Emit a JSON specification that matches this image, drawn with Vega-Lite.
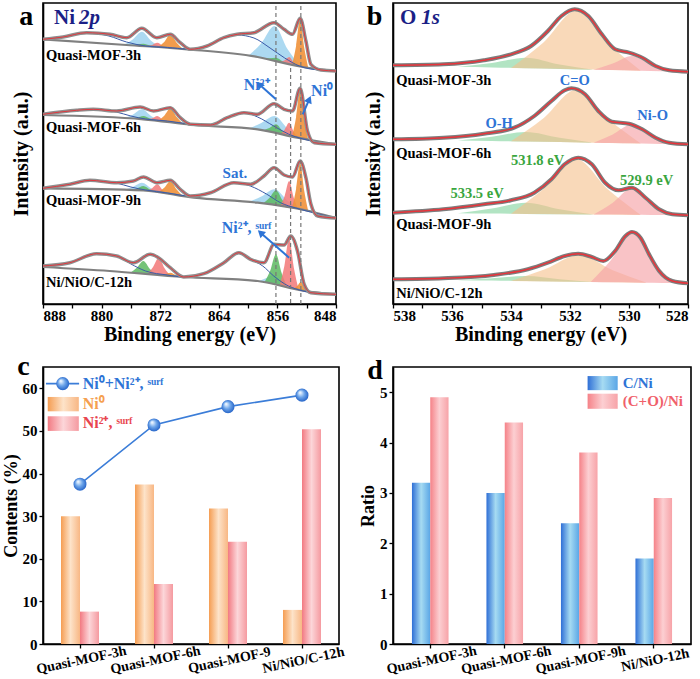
{
"$schema": "https://vega.github.io/schema/vega-lite/v6.json",
"padding": {"left": 1, "top": 0, "right": 2, "bottom": 0},
"autosize": {"type": "pad"},
"config": {
 "view": {"stroke": "#000", "strokeWidth": 1.6},
 "axis": {"labelFont": "Liberation Serif", "labelFontWeight": "bold", "labelFontSize": 15, "labelColor": "#000", "titleFont": "Liberation Serif", "titleFontWeight": "bold", "titleFontSize": 20, "titleColor": "#000", "domainColor": "#000", "domainWidth": 1.6, "tickColor": "#000", "tickWidth": 1.3, "tickSize": 4, "labelPadding": 2, "titlePadding": 4, "grid": false},
 "text": {"font": "Liberation Serif"}
},
"resolve": {"scale": {"color": "independent"}},
"datasets": {
 "aEnv": [
  {"s":"3h","x":888,"y":264.7},{"s":"3h","x":885.26,"y":267},{"s":"3h","x":882.06,"y":271.3},{"s":"3h","x":878.86,"y":269.7},{"s":"3h","x":876.57,"y":266.3},{"s":"3h","x":874.51,"y":275.7},{"s":"3h","x":872.46,"y":266.3},{"s":"3h","x":870.63,"y":269.7},{"s":"3h","x":869.26,"y":261.3},{"s":"3h","x":867.89,"y":254.7},{"s":"3h","x":865.6,"y":258},{"s":"3h","x":863.31,"y":266.3},{"s":"3h","x":861.49,"y":269.7},{"s":"3h","x":859.2,"y":271.3},{"s":"3h","x":856.46,"y":281.3},{"s":"3h","x":855.09,"y":274.7},{"s":"3h","x":853.94,"y":269.7},{"s":"3h","x":852.89,"y":285.7},{"s":"3h","x":852.11,"y":263},{"s":"3h","x":851.43,"y":239.7},{"s":"3h","x":850.06,"y":234},{"s":"3h","x":848,"y":233},
  {"s":"6h","x":888,"y":189.7},{"s":"6h","x":883.43,"y":193.7},{"s":"6h","x":881.14,"y":194.7},{"s":"6h","x":877.94,"y":193},{"s":"6h","x":874.74,"y":197},{"s":"6h","x":872.91,"y":193},{"s":"6h","x":870.63,"y":196.3},{"s":"6h","x":869.26,"y":186.3},{"s":"6h","x":867.89,"y":179.7},{"s":"6h","x":865.14,"y":179},{"s":"6h","x":862.86,"y":186.3},{"s":"6h","x":860.57,"y":191.3},{"s":"6h","x":858.74,"y":189.7},{"s":"6h","x":856.46,"y":200.3},{"s":"6h","x":855.09,"y":194.7},{"s":"6h","x":853.94,"y":193},{"s":"6h","x":852.9,"y":215.7},{"s":"6h","x":851.89,"y":173},{"s":"6h","x":850.97,"y":161.3},{"s":"6h","x":848,"y":159.7},
  {"s":"9h","x":888,"y":115.7},{"s":"9h","x":884.34,"y":119.7},{"s":"9h","x":881.6,"y":123.7},{"s":"9h","x":877.94,"y":121.3},{"s":"9h","x":875.66,"y":123},{"s":"9h","x":874.29,"y":127},{"s":"9h","x":872.46,"y":121.3},{"s":"9h","x":870.63,"y":123.7},{"s":"9h","x":869.26,"y":114.7},{"s":"9h","x":867.89,"y":108},{"s":"9h","x":865.14,"y":111.3},{"s":"9h","x":861.94,"y":121.3},{"s":"9h","x":859.66,"y":119.7},{"s":"9h","x":857.83,"y":128},{"s":"9h","x":856.46,"y":136.3},{"s":"9h","x":855.09,"y":129},{"s":"9h","x":853.94,"y":127},{"s":"9h","x":852.89,"y":143},{"s":"9h","x":852.11,"y":126.3},{"s":"9h","x":851.43,"y":100},{"s":"9h","x":850.5,"y":88},{"s":"9h","x":848,"y":86},
  {"s":"12h","x":888,"y":38},{"s":"12h","x":884.34,"y":41.3},{"s":"12h","x":880.69,"y":50.3},{"s":"12h","x":877.94,"y":48},{"s":"12h","x":875.66,"y":41.3},{"s":"12h","x":873.37,"y":49.7},{"s":"12h","x":872.23,"y":46.3},{"s":"12h","x":870.63,"y":36.3},{"s":"12h","x":868.8,"y":27},{"s":"12h","x":866.06,"y":30.3},{"s":"12h","x":863.31,"y":41.3},{"s":"12h","x":861.26,"y":51.3},{"s":"12h","x":859.66,"y":44.7},{"s":"12h","x":857.83,"y":41.3},{"s":"12h","x":856.46,"y":59.7},{"s":"12h","x":855.09,"y":59},{"s":"12h","x":854.17,"y":68},{"s":"12h","x":853.26,"y":53},{"s":"12h","x":852.34,"y":19.7},{"s":"12h","x":851.43,"y":11.3},{"s":"12h","x":848,"y":9.7}
 ],
 "aBase": [
  {"s":"3h","x":888,"y":264.7},{"s":"3h","x":876.6,"y":259},{"s":"3h","x":868.3,"y":254.7},{"s":"3h","x":858.7,"y":247},{"s":"3h","x":853.3,"y":238},{"s":"3h","x":848,"y":233},
  {"s":"6h","x":888,"y":189},{"s":"6h","x":874.3,"y":184.7},{"s":"6h","x":867.4,"y":179},{"s":"6h","x":858.7,"y":174.7},{"s":"6h","x":853.3,"y":166.3},{"s":"6h","x":848,"y":159.7},
  {"s":"9h","x":888,"y":115.7},{"s":"9h","x":874.3,"y":113.7},{"s":"9h","x":867.4,"y":106.3},{"s":"9h","x":858.7,"y":101.3},{"s":"9h","x":852.3,"y":94},{"s":"9h","x":848,"y":86},
  {"s":"12h","x":888,"y":37},{"s":"12h","x":878.9,"y":33},{"s":"12h","x":868.8,"y":27},{"s":"12h","x":858.7,"y":23},{"s":"12h","x":852.3,"y":13},{"s":"12h","x":848,"y":9.7}
 ],
 "aBg": [
  {"s":"3h","x":888,"y":264.7},{"s":"3h","x":885.3,"y":267},{"s":"3h","x":882.1,"y":271},{"s":"3h","x":879,"y":268},{"s":"3h","x":876.6,"y":262},{"s":"3h","x":874,"y":258},{"s":"3h","x":871,"y":256.5},{"s":"3h","x":868.3,"y":255},{"s":"3h","x":865.6,"y":258},{"s":"3h","x":863.3,"y":266},{"s":"3h","x":861.5,"y":269},{"s":"3h","x":859.2,"y":266},{"s":"3h","x":857,"y":256},{"s":"3h","x":855,"y":246},{"s":"3h","x":853,"y":238},{"s":"3h","x":851.5,"y":235},{"s":"3h","x":848,"y":233},
  {"s":"6h","x":888,"y":189.7},{"s":"6h","x":883.4,"y":193.7},{"s":"6h","x":881.1,"y":194.7},{"s":"6h","x":878,"y":192},{"s":"6h","x":876,"y":188},{"s":"6h","x":874,"y":185},{"s":"6h","x":871,"y":183},{"s":"6h","x":867.9,"y":180},{"s":"6h","x":865.1,"y":179.2},{"s":"6h","x":862.9,"y":186.3},{"s":"6h","x":860.6,"y":191.3},{"s":"6h","x":858.7,"y":187},{"s":"6h","x":856.5,"y":178},{"s":"6h","x":854.5,"y":170},{"s":"6h","x":852.5,"y":165},{"s":"6h","x":848,"y":159.7},
  {"s":"9h","x":888,"y":115.7},{"s":"9h","x":884.3,"y":119.7},{"s":"9h","x":881.6,"y":123.7},{"s":"9h","x":878,"y":121},{"s":"9h","x":876,"y":117},{"s":"9h","x":874,"y":114},{"s":"9h","x":871,"y":111},{"s":"9h","x":867.9,"y":108},{"s":"9h","x":865.1,"y":111.3},{"s":"9h","x":861.9,"y":121.3},{"s":"9h","x":859.7,"y":118},{"s":"9h","x":857.5,"y":110},{"s":"9h","x":855.5,"y":101},{"s":"9h","x":853.5,"y":96},{"s":"9h","x":851.5,"y":92},{"s":"9h","x":848,"y":86},
  {"s":"12h","x":888,"y":38},{"s":"12h","x":884.3,"y":41.3},{"s":"12h","x":880.7,"y":50.3},{"s":"12h","x":877.9,"y":48},{"s":"12h","x":876,"y":40},{"s":"12h","x":874,"y":33},{"s":"12h","x":871,"y":29},{"s":"12h","x":868.8,"y":27},{"s":"12h","x":866.1,"y":30.3},{"s":"12h","x":863.3,"y":41.3},{"s":"12h","x":861.3,"y":51.3},{"s":"12h","x":859.7,"y":44.7},{"s":"12h","x":858,"y":38},{"s":"12h","x":856.5,"y":28},{"s":"12h","x":855,"y":20},{"s":"12h","x":853,"y":14},{"s":"12h","x":851.5,"y":11.5},{"s":"12h","x":848,"y":9.7}
 ],
 "aComp": [
  {"id":"3h-b1","k":"b","x":877,"y":259.2,"b":259.2},{"id":"3h-b1","k":"b","x":875.75,"y":264.6,"b":258.6},{"id":"3h-b1","k":"b","x":874.5,"y":272.3,"b":257.9},{"id":"3h-b1","k":"b","x":873.25,"y":263.3,"b":257.3},{"id":"3h-b1","k":"b","x":872,"y":256.6,"b":256.6},
  {"id":"3h-g1","k":"g","x":876.1,"y":258.8,"b":258.8},{"id":"3h-g1","k":"g","x":875.2,"y":259.4,"b":258.3},{"id":"3h-g1","k":"g","x":874.3,"y":260.3,"b":257.8},{"id":"3h-g1","k":"g","x":873.4,"y":258.4,"b":257.35},{"id":"3h-g1","k":"g","x":872.5,"y":256.9,"b":256.9},
  {"id":"3h-r1","k":"r","x":873.8,"y":257.6,"b":257.6},{"id":"3h-r1","k":"r","x":873.1,"y":259.1,"b":257.2},{"id":"3h-r1","k":"r","x":872.4,"y":261.3,"b":256.8},{"id":"3h-r1","k":"r","x":871.7,"y":258.4,"b":256.5},{"id":"3h-r1","k":"r","x":871,"y":256.1,"b":256.1},
  {"id":"3h-o1","k":"o","x":872.3,"y":256.8,"b":256.8},{"id":"3h-o1","k":"o","x":871.45,"y":262.1,"b":256.3},{"id":"3h-o1","k":"o","x":870.6,"y":269.7,"b":255.9},{"id":"3h-o1","k":"o","x":869.75,"y":261.3,"b":255.5},{"id":"3h-o1","k":"o","x":868.9,"y":255,"b":255},
  {"id":"3h-b2","k":"b","x":860,"y":248,"b":248},{"id":"3h-b2","k":"b","x":858.2,"y":260.8,"b":246.2},{"id":"3h-b2","k":"b","x":856.4,"y":278,"b":243.2},{"id":"3h-b2","k":"b","x":854.6,"y":254.8,"b":240.2},{"id":"3h-b2","k":"b","x":852.8,"y":237.5,"b":237.5},
  {"id":"3h-g2","k":"g","x":858,"y":245.9,"b":245.9},{"id":"3h-g2","k":"g","x":857.1,"y":245.8,"b":244.3},{"id":"3h-g2","k":"g","x":856.2,"y":246.3,"b":242.8},{"id":"3h-g2","k":"g","x":855.3,"y":242.8,"b":241.3},{"id":"3h-g2","k":"g","x":854.4,"y":239.8,"b":239.8},
  {"id":"3h-r2","k":"r","x":855.6,"y":241.8,"b":241.8},{"id":"3h-r2","k":"r","x":855,"y":243.8,"b":240.8},{"id":"3h-r2","k":"r","x":854.4,"y":247,"b":239.8},{"id":"3h-r2","k":"r","x":853.8,"y":241.8,"b":238.8},{"id":"3h-r2","k":"r","x":853.2,"y":237.9,"b":237.9},
  {"id":"3h-o2","k":"o","x":854,"y":239.2,"b":239.2},{"id":"3h-o2","k":"o","x":853.45,"y":258.1,"b":238.3},{"id":"3h-o2","k":"o","x":852.9,"y":284.7,"b":237.6},{"id":"3h-o2","k":"o","x":852.35,"y":256.9,"b":237.1},{"id":"3h-o2","k":"o","x":851.8,"y":236.6,"b":236.6},
  {"id":"6h-b1","k":"b","x":877,"y":185.5,"b":185.5},{"id":"6h-b1","k":"b","x":875.75,"y":189.3,"b":185.15},{"id":"6h-b1","k":"b","x":874.5,"y":194.7,"b":184.8},{"id":"6h-b1","k":"b","x":873.25,"y":188,"b":183.9},{"id":"6h-b1","k":"b","x":872,"y":182.8,"b":182.8},
  {"id":"6h-g1","k":"g","x":876.1,"y":185.3,"b":185.3},{"id":"6h-g1","k":"g","x":875.2,"y":186.4,"b":185},{"id":"6h-g1","k":"g","x":874.3,"y":188,"b":184.7},{"id":"6h-g1","k":"g","x":873.4,"y":185.4,"b":184},{"id":"6h-g1","k":"g","x":872.5,"y":183.2,"b":183.2},
  {"id":"6h-r1","k":"r","x":873.8,"y":184.3,"b":184.3},{"id":"6h-r1","k":"r","x":873.1,"y":185.7,"b":183.7},{"id":"6h-r1","k":"r","x":872.4,"y":188,"b":183.2},{"id":"6h-r1","k":"r","x":871.7,"y":184.6,"b":182.6},{"id":"6h-r1","k":"r","x":871,"y":182,"b":182},
  {"id":"6h-o1","k":"o","x":872.3,"y":183.1,"b":183.1},{"id":"6h-o1","k":"o","x":871.45,"y":188.3,"b":182.4},{"id":"6h-o1","k":"o","x":870.6,"y":195.7,"b":181.7},{"id":"6h-o1","k":"o","x":869.75,"y":186.9,"b":181},{"id":"6h-o1","k":"o","x":868.9,"y":180.2,"b":180.2},
  {"id":"6h-b2","k":"b","x":860,"y":175.3,"b":175.3},{"id":"6h-b2","k":"b","x":858.2,"y":181,"b":173.9},{"id":"6h-b2","k":"b","x":856.4,"y":188,"b":171.1},{"id":"6h-b2","k":"b","x":854.6,"y":175.4,"b":168.3},{"id":"6h-b2","k":"b","x":852.8,"y":165.7,"b":165.7},
  {"id":"6h-g2","k":"g","x":858,"y":173.6,"b":173.6},{"id":"6h-g2","k":"g","x":857.1,"y":175.9,"b":172.2},{"id":"6h-g2","k":"g","x":856.2,"y":179.7,"b":170.8},{"id":"6h-g2","k":"g","x":855.3,"y":173.1,"b":169.4},{"id":"6h-g2","k":"g","x":854.4,"y":168,"b":168},
  {"id":"6h-r2","k":"r","x":855.6,"y":169.9,"b":169.9},{"id":"6h-r2","k":"r","x":855,"y":174.6,"b":169},{"id":"6h-r2","k":"r","x":854.4,"y":181.3,"b":168},{"id":"6h-r2","k":"r","x":853.8,"y":172.7,"b":167.1},{"id":"6h-r2","k":"r","x":853.2,"y":166.2,"b":166.2},
  {"id":"6h-o2","k":"o","x":854,"y":167.4,"b":167.4},{"id":"6h-o2","k":"o","x":853.45,"y":186.7,"b":166.5},{"id":"6h-o2","k":"o","x":852.9,"y":214,"b":165.8},{"id":"6h-o2","k":"o","x":852.35,"y":185.3,"b":165.1},{"id":"6h-o2","k":"o","x":851.8,"y":164.5,"b":164.5},
  {"id":"9h-b1","k":"b","x":877,"y":114.1,"b":114.1},{"id":"9h-b1","k":"b","x":875.75,"y":117.1,"b":113.9},{"id":"9h-b1","k":"b","x":874.5,"y":121.3,"b":113.7},{"id":"9h-b1","k":"b","x":873.25,"y":115.8,"b":112.6},{"id":"9h-b1","k":"b","x":872,"y":111.2,"b":111.2},
  {"id":"9h-g1","k":"g","x":876.1,"y":114,"b":114},{"id":"9h-g1","k":"g","x":875.2,"y":115.6,"b":113.8},{"id":"9h-g1","k":"g","x":874.3,"y":118,"b":113.7},{"id":"9h-g1","k":"g","x":873.4,"y":114.5,"b":112.7},{"id":"9h-g1","k":"g","x":872.5,"y":111.8,"b":111.8},
  {"id":"9h-r1","k":"r","x":873.8,"y":113.1,"b":113.1},{"id":"9h-r1","k":"r","x":873.1,"y":115.8,"b":112.4},{"id":"9h-r1","k":"r","x":872.4,"y":119.7,"b":111.6},{"id":"9h-r1","k":"r","x":871.7,"y":114.3,"b":110.9},{"id":"9h-r1","k":"r","x":871,"y":110.1,"b":110.1},
  {"id":"9h-o1","k":"o","x":872.3,"y":111.5,"b":111.5},{"id":"9h-o1","k":"o","x":871.45,"y":116.2,"b":110.6},{"id":"9h-o1","k":"o","x":870.6,"y":123,"b":109.7},{"id":"9h-o1","k":"o","x":869.75,"y":114.4,"b":108.8},{"id":"9h-o1","k":"o","x":868.9,"y":107.9,"b":107.9},
  {"id":"9h-b2","k":"b","x":860,"y":102,"b":102},{"id":"9h-b2","k":"b","x":858.2,"y":107.4,"b":100.7},{"id":"9h-b2","k":"b","x":856.4,"y":114.7,"b":98.7},{"id":"9h-b2","k":"b","x":854.6,"y":103.3,"b":96.6},{"id":"9h-b2","k":"b","x":852.8,"y":94.6,"b":94.6},
  {"id":"9h-g2","k":"g","x":858,"y":100.5,"b":100.5},{"id":"9h-g2","k":"g","x":857.1,"y":105.9,"b":99.5},{"id":"9h-g2","k":"g","x":856.2,"y":113.7,"b":98.4},{"id":"9h-g2","k":"g","x":855.3,"y":103.8,"b":97.4},{"id":"9h-g2","k":"g","x":854.4,"y":96.4,"b":96.4},
  {"id":"9h-r2","k":"r","x":855.6,"y":97.8,"b":97.8},{"id":"9h-r2","k":"r","x":855,"y":108.3,"b":97.1},{"id":"9h-r2","k":"r","x":854.4,"y":123,"b":96.4},{"id":"9h-r2","k":"r","x":853.8,"y":106.9,"b":95.7},{"id":"9h-r2","k":"r","x":853.2,"y":95,"b":95},
  {"id":"9h-o2","k":"o","x":854,"y":95.9,"b":95.9},{"id":"9h-o2","k":"o","x":853.45,"y":114.9,"b":95.3},{"id":"9h-o2","k":"o","x":852.9,"y":141.3,"b":94.7},{"id":"9h-o2","k":"o","x":852.35,"y":113.7,"b":94.1},{"id":"9h-o2","k":"o","x":851.8,"y":93.1,"b":93.1},
  {"id":"12h-b2","k":"b","x":858.5,"y":22.9,"b":22.9},{"id":"12h-b2","k":"b","x":857.5,"y":26,"b":21.7},{"id":"12h-b2","k":"b","x":856.5,"y":29,"b":20.1},{"id":"12h-b2","k":"b","x":855.5,"y":22,"b":18.6},{"id":"12h-b2","k":"b","x":854.5,"y":16.5,"b":16.5},
  {"id":"12h-g1","k":"g","x":876.1,"y":31.3,"b":31.3},{"id":"12h-g1","k":"g","x":875.2,"y":36.2,"b":30.8},{"id":"12h-g1","k":"g","x":874.3,"y":43,"b":30.2},{"id":"12h-g1","k":"g","x":873.4,"y":35.1,"b":29.7},{"id":"12h-g1","k":"g","x":872.5,"y":29.2,"b":29.2},
  {"id":"12h-r1","k":"r","x":873.8,"y":30,"b":30},{"id":"12h-r1","k":"r","x":873,"y":36.8,"b":29.5},{"id":"12h-r1","k":"r","x":872.2,"y":46.3,"b":29},{"id":"12h-r1","k":"r","x":871.4,"y":35.8,"b":28.5},{"id":"12h-r1","k":"r","x":870.6,"y":28.1,"b":28.1},
  {"id":"12h-o1","k":"o","x":872.1,"y":28.9,"b":28.9},{"id":"12h-o1","k":"o","x":871.35,"y":29.8,"b":28.5},{"id":"12h-o1","k":"o","x":870.6,"y":31.3,"b":28.1},{"id":"12h-o1","k":"o","x":869.85,"y":28.9,"b":27.6},{"id":"12h-o1","k":"o","x":869.1,"y":27.2,"b":27.2},
  {"id":"12h-g2","k":"g","x":857.8,"y":21.4,"b":21.4},{"id":"12h-g2","k":"g","x":857,"y":33,"b":20.2},{"id":"12h-g2","k":"g","x":856.2,"y":49.7,"b":19.1},{"id":"12h-g2","k":"g","x":855.4,"y":30.6,"b":17.8},{"id":"12h-g2","k":"g","x":854.6,"y":16.6,"b":16.6},
  {"id":"12h-r2","k":"r","x":855.7,"y":18.3,"b":18.3},{"id":"12h-r2","k":"r","x":855.05,"y":38,"b":17.3},{"id":"12h-r2","k":"r","x":854.4,"y":65.7,"b":16.3},{"id":"12h-r2","k":"r","x":853.75,"y":36,"b":15.3},{"id":"12h-r2","k":"r","x":853.1,"y":14.2,"b":14.2},
  {"id":"12h-o2","k":"o","x":853.8,"y":15.3,"b":15.3},{"id":"12h-o2","k":"o","x":853.3,"y":18,"b":14.6},{"id":"12h-o2","k":"o","x":852.8,"y":22,"b":13.8},{"id":"12h-o2","k":"o","x":852.3,"y":16.4,"b":13},{"id":"12h-o2","k":"o","x":851.8,"y":12.4,"b":12.4}
 ],
 "aDash": [{"x":856.2,"y":298,"y2":0},{"x":854.2,"y":236,"y2":0},{"x":852.8,"y":298,"y2":0}],
 "aLab": [{"x":887.6,"y":248,"t":"Quasi-MOF-3h"},{"x":887.6,"y":176,"t":"Quasi-MOF-6h"},{"x":887.6,"y":103,"t":"Quasi-MOF-9h"},{"x":887.6,"y":21.3,"t":"Ni/NiO/C-12h"}],
 "aAnn": [{"x":860.6,"y":219,"t":"Ni²⁺"},{"x":851.4,"y":213,"t":"Ni⁰"},{"x":863.6,"y":76,"t":"Ni²⁺, ˢᵘʳᶠ"}],
 "aSat": [{"x":861.8,"y":131,"t":"Sat."}],
 "aArr": [{"id":"A1","x":856.2,"y":204.7,"x2":858.5,"y2":219.7},{"id":"A2","x":852.55,"y":189.7,"x2":851.65,"y2":204.7},{"id":"A3","x":854.4,"y":46.3,"x2":858.3,"y2":71.3}],
 "aHead": [{"id":"A1","x":858.5,"y":219.7},{"id":"A2","x":851.65,"y":204.7},{"id":"A3","x":858.3,"y":71.3}],
 "aTitle": [{"x":886.5,"y":286,"t":"Ni","st":"n"},{"x":883.1,"y":286,"t":"2p","st":"i"}],
 "aLetter": [{"x":890.3,"y":287,"t":"a"}],
 "bEnv": [
  {"s":"3h","x":538,"y":238.7},{"s":"3h","x":536.29,"y":239.7},{"s":"3h","x":534.92,"y":243.7},{"s":"3h","x":534,"y":249.7},{"s":"3h","x":533.32,"y":258},{"s":"3h","x":532.75,"y":273},{"s":"3h","x":532.29,"y":288},{"s":"3h","x":531.84,"y":294.7},{"s":"3h","x":531.38,"y":288},{"s":"3h","x":530.92,"y":269.7},{"s":"3h","x":530.47,"y":254.7},{"s":"3h","x":530,"y":251.3},{"s":"3h","x":529.55,"y":246.3},{"s":"3h","x":529.1,"y":238},{"s":"3h","x":528.64,"y":233.7},{"s":"3h","x":528,"y":232.3},
  {"s":"6h","x":538,"y":164.7},{"s":"6h","x":536.29,"y":166.3},{"s":"6h","x":534.92,"y":170.3},{"s":"6h","x":533.89,"y":176.3},{"s":"6h","x":533.21,"y":188},{"s":"6h","x":532.63,"y":203},{"s":"6h","x":532.18,"y":213.7},{"s":"6h","x":531.95,"y":215.7},{"s":"6h","x":531.49,"y":209.7},{"s":"6h","x":531.04,"y":193},{"s":"6h","x":530.58,"y":182.3},{"s":"6h","x":530,"y":180.3},{"s":"6h","x":529.55,"y":174.7},{"s":"6h","x":529.1,"y":166.3},{"s":"6h","x":528.64,"y":161.3},{"s":"6h","x":528,"y":159.7},
  {"s":"9h","x":538,"y":91.3},{"s":"9h","x":536.29,"y":94.7},{"s":"9h","x":534.92,"y":99.7},{"s":"9h","x":534,"y":103.7},{"s":"9h","x":533.21,"y":111.3},{"s":"9h","x":532.63,"y":124.7},{"s":"9h","x":532.18,"y":139.7},{"s":"9h","x":531.72,"y":146.3},{"s":"9h","x":531.26,"y":139.7},{"s":"9h","x":530.81,"y":121.3},{"s":"9h","x":530.35,"y":113.7},{"s":"9h","x":529.9,"y":116.3},{"s":"9h","x":529.44,"y":106.3},{"s":"9h","x":528.98,"y":94.7},{"s":"9h","x":528.53,"y":89.7},{"s":"9h","x":528,"y":88.7},
  {"s":"12h","x":538,"y":24.7},{"s":"12h","x":536.29,"y":25.7},{"s":"12h","x":534.58,"y":29},{"s":"12h","x":533.43,"y":34.7},{"s":"12h","x":532.75,"y":41.3},{"s":"12h","x":532.18,"y":48},{"s":"12h","x":531.72,"y":50.3},{"s":"12h","x":531.26,"y":47},{"s":"12h","x":530.87,"y":43},{"s":"12h","x":530.47,"y":53},{"s":"12h","x":530.12,"y":68},{"s":"12h","x":529.9,"y":72},{"s":"12h","x":529.61,"y":66.3},{"s":"12h","x":529.32,"y":49.7},{"s":"12h","x":528.98,"y":33},{"s":"12h","x":528.53,"y":23},{"s":"12h","x":528,"y":20.7}
 ],
 "bComp": [
  {"id":"3h-g","k":"g","x":535.8,"y":237.3,"b":237.3},{"id":"3h-g","k":"g","x":534.65,"y":241,"b":236.6},{"id":"3h-g","k":"g","x":533.5,"y":246.3,"b":235.8},{"id":"3h-g","k":"g","x":532.35,"y":239.5,"b":235.1},{"id":"3h-g","k":"g","x":531.2,"y":234.3,"b":234.3},
  {"id":"3h-o","k":"o","x":534,"y":236.1,"b":236.1},{"id":"3h-o","k":"o","x":532.9,"y":261.6,"b":235.4},{"id":"3h-o","k":"o","x":531.8,"y":293,"b":234.7},{"id":"3h-o","k":"o","x":530.7,"y":260.2,"b":234},{"id":"3h-o","k":"o","x":529.6,"y":233.3,"b":233.3},
  {"id":"3h-r","k":"r","x":531.2,"y":234.3,"b":234.3},{"id":"3h-r","k":"r","x":530.55,"y":240.4,"b":233.9},{"id":"3h-r","k":"r","x":529.9,"y":248,"b":233.5},{"id":"3h-r","k":"r","x":529.25,"y":239.6,"b":233.1},{"id":"3h-r","k":"r","x":528.6,"y":232.7,"b":232.7},
  {"id":"6h-g","k":"g","x":535.8,"y":163.6,"b":163.6},{"id":"6h-g","k":"g","x":534.65,"y":167.3,"b":163},{"id":"6h-g","k":"g","x":533.5,"y":172,"b":162.5},{"id":"6h-g","k":"g","x":532.35,"y":166.2,"b":161.9},{"id":"6h-g","k":"g","x":531.2,"y":161.3,"b":161.3},
  {"id":"6h-o","k":"o","x":534,"y":162.7,"b":162.7},{"id":"6h-o","k":"o","x":532.9,"y":185.8,"b":162.2},{"id":"6h-o","k":"o","x":531.8,"y":214,"b":161.6},{"id":"6h-o","k":"o","x":530.7,"y":184.7,"b":161},{"id":"6h-o","k":"o","x":529.6,"y":160.5,"b":160.5},
  {"id":"6h-r","k":"r","x":531.2,"y":161.3,"b":161.3},{"id":"6h-r","k":"r","x":530.55,"y":169.6,"b":161},{"id":"6h-r","k":"r","x":529.9,"y":179.7,"b":160.7},{"id":"6h-r","k":"r","x":529.25,"y":168.9,"b":160.3},{"id":"6h-r","k":"r","x":528.6,"y":160,"b":160},
  {"id":"9h-g","k":"g","x":535.8,"y":90.7,"b":90.7},{"id":"9h-g","k":"g","x":534.65,"y":95.4,"b":90.4},{"id":"9h-g","k":"g","x":533.5,"y":101.3,"b":90.1},{"id":"9h-g","k":"g","x":532.35,"y":94.8,"b":89.8},{"id":"9h-g","k":"g","x":531.2,"y":89.5,"b":89.5},
  {"id":"9h-o","k":"o","x":534,"y":90.3,"b":90.3},{"id":"9h-o","k":"o","x":532.9,"y":114.9,"b":90},{"id":"9h-o","k":"o","x":531.8,"y":145,"b":89.7},{"id":"9h-o","k":"o","x":530.7,"y":114.3,"b":89.4},{"id":"9h-o","k":"o","x":529.6,"y":89.1,"b":89.1},
  {"id":"9h-r","k":"r","x":531.2,"y":89.5,"b":89.5},{"id":"9h-r","k":"r","x":530.55,"y":101.3,"b":89.4},{"id":"9h-r","k":"r","x":529.9,"y":115.7,"b":89.2},{"id":"9h-r","k":"r","x":529.25,"y":100.9,"b":89},{"id":"9h-r","k":"r","x":528.6,"y":88.9,"b":88.9},
  {"id":"12h-g","k":"g","x":535.8,"y":23.8,"b":23.8},{"id":"12h-g","k":"g","x":534.65,"y":25.7,"b":23.4},{"id":"12h-g","k":"g","x":533.5,"y":28,"b":22.9},{"id":"12h-g","k":"g","x":532.35,"y":24.7,"b":22.4},{"id":"12h-g","k":"g","x":531.2,"y":22,"b":22},
  {"id":"12h-o","k":"o","x":534,"y":23.1,"b":23.1},{"id":"12h-o","k":"o","x":532.85,"y":34.7,"b":22.6},{"id":"12h-o","k":"o","x":531.7,"y":49,"b":22.2},{"id":"12h-o","k":"o","x":530.55,"y":33.8,"b":21.7},{"id":"12h-o","k":"o","x":529.4,"y":21.3,"b":21.3},
  {"id":"12h-r","k":"r","x":531.3,"y":22,"b":22},{"id":"12h-r","k":"r","x":530.6,"y":44.2,"b":21.7},{"id":"12h-r","k":"r","x":529.9,"y":71.5,"b":21.5},{"id":"12h-r","k":"r","x":529.2,"y":43.7,"b":21.2},{"id":"12h-r","k":"r","x":528.5,"y":20.9,"b":20.9}
 ],
 "bLab": [{"x":537.89,"y":223,"t":"Quasi-MOF-3h"},{"x":537.89,"y":149.7,"t":"Quasi-MOF-6h"},{"x":537.89,"y":79,"t":"Quasi-MOF-9h"},{"x":537.89,"y":9.7,"t":"Ni/NiO/C-12h"}],
 "bAnn": [{"x":531.84,"y":223,"t":"C=O"},{"x":534.4,"y":179.7,"t":"O-H"},{"x":529.2,"y":188,"t":"Ni-O"}],
 "bEv": [{"x":533.1,"y":143,"t":"531.8 eV"},{"x":535.15,"y":109.7,"t":"533.5 eV"},{"x":529.4,"y":123,"t":"529.9 eV"}],
 "bTitle": [{"x":537.76,"y":286,"t":"O","st":"n"},{"x":537.04,"y":286,"t":"1s","st":"i"}],
 "bLetter": [{"x":538.63,"y":287,"t":"b"}],
 "cBar": [
  {"cat":"Quasi-MOF-3h","type":"Ni0","val":30.0},{"cat":"Quasi-MOF-3h","type":"surf","val":7.6},
  {"cat":"Quasi-MOF-6h","type":"Ni0","val":37.4},{"cat":"Quasi-MOF-6h","type":"surf","val":14.1},
  {"cat":"Quasi-MOF-9","type":"Ni0","val":31.8},{"cat":"Quasi-MOF-9","type":"surf","val":24.0},
  {"cat":"Ni/NiO/C-12h","type":"Ni0","val":8.0},{"cat":"Ni/NiO/C-12h","type":"surf","val":50.4}
 ],
 "cLine": [{"cat":"Quasi-MOF-3h","val":37.5},{"cat":"Quasi-MOF-6h","val":51.4},{"cat":"Quasi-MOF-9","val":55.7},{"cat":"Ni/NiO/C-12h","val":58.4}],
 "cLegLine": [{"x":0.01,"x2":0.122,"y":61.1}],
 "cLegPt": [{"x":0.0666,"y":61.1}],
 "cLegRect": [{"k":"ni0","x":0.016,"x2":0.121,"y":57.97,"y2":54.6},{"k":"surf","x":0.016,"x2":0.121,"y":53.44,"y2":50.0}],
 "cLegText": [{"k":"line","x":0.134,"y":61.1,"t":"Ni⁰+Ni²⁺, ˢᵘʳᶠ"},{"k":"ni0","x":0.134,"y":56.26,"t":"Ni⁰"},{"k":"surf","x":0.134,"y":51.8,"t":"Ni²⁺, ˢᵘʳᶠ"}],
 "cLetter": [{"x":-0.066,"y":64.9,"t":"c"}],
 "dBar": [
  {"cat":"Quasi-MOF-3h","type":"CNi","val":3.2},{"cat":"Quasi-MOF-3h","type":"CONi","val":4.9},
  {"cat":"Quasi-MOF-6h","type":"CNi","val":3.0},{"cat":"Quasi-MOF-6h","type":"CONi","val":4.4},
  {"cat":"Quasi-MOF-9h","type":"CNi","val":2.4},{"cat":"Quasi-MOF-9h","type":"CONi","val":3.8},
  {"cat":"Ni/NiO-12h","type":"CNi","val":1.7},{"cat":"Ni/NiO-12h","type":"CONi","val":2.9}
 ],
 "dLegRect": [{"k":"CNi","x":0.653,"x2":0.754,"y":5.32,"y2":5.04},{"k":"CONi","x":0.653,"x2":0.754,"y":4.97,"y2":4.67}],
 "dLegText": [{"k":"CNi","x":0.771,"y":5.18,"t":"C/Ni"},{"k":"CONi","x":0.771,"y":4.83,"t":"(C+O)/Ni"}],
 "dLetter": [{"x":-0.06,"y":5.42,"t":"d"}]
},
"columns": 2,
"spacing": {"row": 63, "column": 54},
"bounds": "flush",
"concat": [
  {
   "width": 293, "height": 301,
   "encoding": {
    "x": {"field": "x", "type": "quantitative", "scale": {"domain": [848, 888], "reverse": true, "nice": false, "zero": false}, "axis": {"values": [888,884,880,876,872,868,864,860,856,852,848], "labelExpr": "datum.value % 8 === 0 ? datum.label : ''", "title": "Binding energy (eV)", "labelPadding": 0, "titlePadding": 1}},
    "y": {"field": "y", "type": "quantitative", "scale": {"domain": [0, 301], "nice": false, "zero": false}, "axis": {"title": "Intensity (a.u.)", "labels": false, "ticks": false, "titlePadding": 12}}
   },
   "layer": [
    {"data": {"name": "aComp"}, "transform": [{"filter": "datum.k === 'b'"}], "mark": {"type": "area", "interpolate": "monotone", "color": "#a3d5ef", "opacity": 0.9}, "encoding": {"y2": {"field": "b"}, "detail": {"field": "id"}}},
    {"data": {"name": "aComp"}, "transform": [{"filter": "datum.k === 'g'"}], "mark": {"type": "area", "interpolate": "monotone", "color": "#5cb860", "opacity": 0.85}, "encoding": {"y2": {"field": "b"}, "detail": {"field": "id"}}},
    {"data": {"name": "aComp"}, "transform": [{"filter": "datum.k === 'r'"}], "mark": {"type": "area", "interpolate": "monotone", "color": "#f27878", "opacity": 0.85}, "encoding": {"y2": {"field": "b"}, "detail": {"field": "id"}}},
    {"data": {"name": "aComp"}, "transform": [{"filter": "datum.k === 'o'"}], "mark": {"type": "area", "interpolate": "monotone", "color": "#f0913a", "opacity": 0.9}, "encoding": {"y2": {"field": "b"}, "detail": {"field": "id"}}},
    {"data": {"name": "aBase"}, "mark": {"type": "line", "interpolate": "monotone", "color": "#808080", "strokeWidth": 2.2}, "encoding": {"detail": {"field": "s"}}},
    {"data": {"name": "aBg"}, "mark": {"type": "line", "interpolate": "monotone", "color": "#3a5aa8", "strokeWidth": 1}, "encoding": {"detail": {"field": "s"}}},
    {"data": {"name": "aEnv"}, "mark": {"type": "line", "interpolate": "monotone", "color": "#8f8f8f", "strokeWidth": 3.5}, "encoding": {"detail": {"field": "s"}}},
    {"data": {"name": "aEnv"}, "mark": {"type": "line", "interpolate": "monotone", "color": "#e0383e", "strokeWidth": 1}, "encoding": {"detail": {"field": "s"}}},
    {"data": {"name": "aDash"}, "mark": {"type": "rule", "color": "#777777", "strokeDash": [4, 3], "strokeWidth": 1.2}, "encoding": {"y2": {"field": "y2"}}},
    {"data": {"name": "aArr"}, "mark": {"type": "rule", "color": "#2e74d6", "strokeWidth": 2}, "encoding": {"x2": {"field": "x2"}, "y2": {"field": "y2"}}},
    {"data": {"name": "aHead"}, "transform": [{"filter": "datum.id !== 'A2'"}], "mark": {"type": "point", "shape": "triangle-up", "filled": true, "color": "#2e74d6", "size": 70, "angle": 312, "opacity": 1}},
    {"data": {"name": "aHead"}, "transform": [{"filter": "datum.id === 'A2'"}], "mark": {"type": "point", "shape": "triangle-up", "filled": true, "color": "#2e74d6", "size": 70, "angle": 24, "opacity": 1}},
    {"data": {"name": "aLab"}, "mark": {"type": "text", "align": "left", "baseline": "middle", "fontWeight": "bold", "fontSize": 14.5, "color": "#000"}, "encoding": {"text": {"field": "t"}}},
    {"data": {"name": "aAnn"}, "mark": {"type": "text", "align": "left", "baseline": "middle", "fontWeight": "bold", "fontSize": 16, "color": "#2e74d6"}, "encoding": {"text": {"field": "t"}}},
    {"data": {"name": "aSat"}, "mark": {"type": "text", "align": "center", "baseline": "middle", "fontWeight": "bold", "fontSize": 15, "color": "#2e74d6"}, "encoding": {"text": {"field": "t"}}},
    {"data": {"name": "aTitle"}, "transform": [{"filter": "datum.st === 'n'"}], "mark": {"type": "text", "align": "left", "baseline": "middle", "fontWeight": "bold", "fontSize": 21, "color": "#1b1f86"}, "encoding": {"text": {"field": "t"}}},
    {"data": {"name": "aTitle"}, "transform": [{"filter": "datum.st === 'i'"}], "mark": {"type": "text", "align": "left", "baseline": "middle", "fontWeight": "bold", "fontStyle": "italic", "fontSize": 21, "color": "#1b1f86"}, "encoding": {"text": {"field": "t"}}},
    {"data": {"name": "aLetter"}, "mark": {"type": "text", "align": "center", "baseline": "middle", "fontWeight": "bold", "fontSize": 28, "color": "#000"}, "encoding": {"text": {"field": "t"}}}
   ]
  },
  {
   "width": 295, "height": 301,
   "encoding": {
    "x": {"field": "x", "type": "quantitative", "scale": {"domain": [528, 538], "reverse": true, "nice": false, "zero": false}, "axis": {"values": [538,537,536,535,534,533,532,531,530,529,528], "labelExpr": "datum.value % 2 === 0 ? datum.label : ''", "title": "Binding energy (eV)", "labelPadding": 0, "titlePadding": 1}},
    "y": {"field": "y", "type": "quantitative", "scale": {"domain": [0, 301], "nice": false, "zero": false}, "axis": {"title": "Intensity (a.u.)", "labels": false, "ticks": false, "titlePadding": 10}}
   },
   "layer": [
    {"data": {"name": "bComp"}, "transform": [{"filter": "datum.k === 'g'"}], "mark": {"type": "area", "interpolate": "monotone", "color": "#7fd29b", "opacity": 0.6}, "encoding": {"y2": {"field": "b"}, "detail": {"field": "id"}}},
    {"data": {"name": "bComp"}, "transform": [{"filter": "datum.k === 'o'"}], "mark": {"type": "area", "interpolate": "monotone", "color": "#f5c08a", "opacity": 0.6}, "encoding": {"y2": {"field": "b"}, "detail": {"field": "id"}}},
    {"data": {"name": "bComp"}, "transform": [{"filter": "datum.k === 'r'"}], "mark": {"type": "area", "interpolate": "monotone", "color": "#f6a3a8", "opacity": 0.65}, "encoding": {"y2": {"field": "b"}, "detail": {"field": "id"}}},
    {"data": {"name": "bEnv"}, "mark": {"type": "line", "interpolate": "monotone", "color": "#7d7d7d", "strokeWidth": 4}, "encoding": {"detail": {"field": "s"}}},
    {"data": {"name": "bEnv"}, "mark": {"type": "line", "interpolate": "monotone", "color": "#e8333a", "strokeWidth": 1.4}, "encoding": {"detail": {"field": "s"}}},
    {"data": {"name": "bLab"}, "mark": {"type": "text", "align": "left", "baseline": "middle", "fontWeight": "bold", "fontSize": 14.5, "color": "#000"}, "encoding": {"text": {"field": "t"}}},
    {"data": {"name": "bAnn"}, "mark": {"type": "text", "align": "center", "baseline": "middle", "fontWeight": "bold", "fontSize": 14.5, "color": "#2e74d6"}, "encoding": {"text": {"field": "t"}}},
    {"data": {"name": "bEv"}, "mark": {"type": "text", "align": "center", "baseline": "middle", "fontWeight": "bold", "fontSize": 14.5, "color": "#3aa63f"}, "encoding": {"text": {"field": "t"}}},
    {"data": {"name": "bTitle"}, "transform": [{"filter": "datum.st === 'n'"}], "mark": {"type": "text", "align": "left", "baseline": "middle", "fontWeight": "bold", "fontSize": 21, "color": "#1b1f86"}, "encoding": {"text": {"field": "t"}}},
    {"data": {"name": "bTitle"}, "transform": [{"filter": "datum.st === 'i'"}], "mark": {"type": "text", "align": "left", "baseline": "middle", "fontWeight": "bold", "fontStyle": "italic", "fontSize": 21, "color": "#1b1f86"}, "encoding": {"text": {"field": "t"}}},
    {"data": {"name": "bLetter"}, "mark": {"type": "text", "align": "center", "baseline": "middle", "fontWeight": "bold", "fontSize": 28, "color": "#000"}, "encoding": {"text": {"field": "t"}}}
   ]
  },
  {
   "width": 296, "height": 277,
   "layer": [
    {
     "encoding": {
      "x": {"field": "cat", "type": "nominal", "sort": null, "scale": {"paddingInner": 0.488, "paddingOuter": 0.244}, "axis": {"title": null, "labelAngle": -12, "labelAlign": "center", "labelBaseline": "top", "labelFontSize": 14, "labelPadding": 5}},
      "y": {"field": "val", "type": "quantitative", "scale": {"domain": [0, 65], "nice": false}, "axis": {"title": "Contents (%)", "values": [0,10,20,30,40,50,60], "titleFontSize": 18, "titlePadding": 2}}
     },
     "layer": [
      {"data": {"name": "cBar"}, "transform": [{"filter": "datum.type === 'Ni0'"}], "mark": {"type": "bar", "width": 19, "xOffset": -9.5, "color": {"gradient": "linear", "x1": 0, "y1": 0, "x2": 1, "y2": 0, "stops": [{"offset": 0, "color": "#f59d52"}, {"offset": 0.5, "color": "#fde3c9"}, {"offset": 1, "color": "#f8b784"}]}}},
      {"data": {"name": "cBar"}, "transform": [{"filter": "datum.type === 'surf'"}], "mark": {"type": "bar", "width": 19, "xOffset": 9.5, "color": {"gradient": "linear", "x1": 0, "y1": 0, "x2": 1, "y2": 0, "stops": [{"offset": 0, "color": "#f27a82"}, {"offset": 0.5, "color": "#fcd6d9"}, {"offset": 1, "color": "#f59aa0"}]}}},
      {"data": {"name": "cLine"}, "mark": {"type": "line", "color": "#3b7dd8", "strokeWidth": 1.6}},
      {"data": {"name": "cLine"}, "mark": {"type": "point", "filled": true, "size": 170, "opacity": 1, "fill": {"gradient": "radial", "x1": 0.35, "y1": 0.3, "r1": 0.05, "x2": 0.5, "y2": 0.5, "r2": 0.55, "stops": [{"offset": 0, "color": "#eaf4ff"}, {"offset": 0.45, "color": "#6ea6ea"}, {"offset": 1, "color": "#1d5cc4"}]}}}
     ]
    },
    {
     "encoding": {
      "x": {"field": "x", "type": "quantitative", "scale": {"domain": [0, 1], "nice": false, "zero": false}, "axis": null},
      "y": {"field": "y", "type": "quantitative", "scale": {"domain": [0, 65], "nice": false}, "axis": {"title": "Contents (%)", "values": [0,10,20,30,40,50,60], "titleFontSize": 18, "titlePadding": 2}}
     },
     "layer": [
      {"data": {"name": "cLegLine"}, "mark": {"type": "rule", "color": "#3b7dd8", "strokeWidth": 1.6}, "encoding": {"x2": {"field": "x2"}}},
      {"data": {"name": "cLegPt"}, "mark": {"type": "point", "filled": true, "size": 170, "opacity": 1, "fill": {"gradient": "radial", "x1": 0.35, "y1": 0.3, "r1": 0.05, "x2": 0.5, "y2": 0.5, "r2": 0.55, "stops": [{"offset": 0, "color": "#eaf4ff"}, {"offset": 0.45, "color": "#6ea6ea"}, {"offset": 1, "color": "#1d5cc4"}]}}},
      {"data": {"name": "cLegRect"}, "transform": [{"filter": "datum.k === 'ni0'"}], "mark": {"type": "rect", "color": {"gradient": "linear", "x1": 0, "y1": 0, "x2": 1, "y2": 0, "stops": [{"offset": 0, "color": "#f59d52"}, {"offset": 0.5, "color": "#fde3c9"}, {"offset": 1, "color": "#f8b784"}]}}, "encoding": {"x2": {"field": "x2"}, "y2": {"field": "y2"}}},
      {"data": {"name": "cLegRect"}, "transform": [{"filter": "datum.k === 'surf'"}], "mark": {"type": "rect", "color": {"gradient": "linear", "x1": 0, "y1": 0, "x2": 1, "y2": 0, "stops": [{"offset": 0, "color": "#f27a82"}, {"offset": 0.5, "color": "#fcd6d9"}, {"offset": 1, "color": "#f59aa0"}]}}, "encoding": {"x2": {"field": "x2"}, "y2": {"field": "y2"}}},
      {"data": {"name": "cLegText"}, "mark": {"type": "text", "align": "left", "baseline": "middle", "fontWeight": "bold", "fontSize": 16}, "encoding": {"text": {"field": "t"}, "color": {"field": "k", "type": "nominal", "scale": {"domain": ["line", "ni0", "surf"], "range": ["#2e74d6", "#f5a04f", "#e8444e"]}, "legend": null}}},
      {"data": {"name": "cLetter"}, "mark": {"type": "text", "align": "center", "baseline": "middle", "fontWeight": "bold", "fontSize": 28, "color": "#000"}, "encoding": {"text": {"field": "t"}}}
     ]
    }
   ],
   "resolve": {"scale": {"x": "independent"}, "axis": {"x": "independent"}}
  },
  {
   "width": 298, "height": 277,
   "layer": [
    {
     "encoding": {
      "x": {"field": "cat", "type": "nominal", "sort": null, "scale": {"paddingInner": 0.507, "paddingOuter": 0.2535}, "axis": {"title": null, "labelAngle": -12, "labelAlign": "center", "labelBaseline": "top", "labelFontSize": 14, "labelPadding": 5}},
      "y": {"field": "val", "type": "quantitative", "scale": {"domain": [0, 5.5], "nice": false}, "axis": {"title": "Ratio", "values": [0,1,2,3,4,5], "titleFontSize": 18, "titlePadding": 2}}
     },
     "layer": [
      {"data": {"name": "dBar"}, "transform": [{"filter": "datum.type === 'CNi'"}], "mark": {"type": "bar", "width": 18.3, "xOffset": -9.15, "color": {"gradient": "linear", "x1": 0, "y1": 0, "x2": 1, "y2": 0, "stops": [{"offset": 0, "color": "#2f6fd6"}, {"offset": 0.5, "color": "#a6dbf2"}, {"offset": 1, "color": "#5aa6e6"}]}}},
      {"data": {"name": "dBar"}, "transform": [{"filter": "datum.type === 'CONi'"}], "mark": {"type": "bar", "width": 18.3, "xOffset": 9.15, "color": {"gradient": "linear", "x1": 0, "y1": 0, "x2": 1, "y2": 0, "stops": [{"offset": 0, "color": "#f58288"}, {"offset": 0.5, "color": "#fccfd2"}, {"offset": 1, "color": "#f7a3a8"}]}}}
     ]
    },
    {
     "encoding": {
      "x": {"field": "x", "type": "quantitative", "scale": {"domain": [0, 1], "nice": false, "zero": false}, "axis": null},
      "y": {"field": "y", "type": "quantitative", "scale": {"domain": [0, 5.5], "nice": false}, "axis": {"title": "Ratio", "values": [0,1,2,3,4,5], "titleFontSize": 18, "titlePadding": 2}}
     },
     "layer": [
      {"data": {"name": "dLegRect"}, "transform": [{"filter": "datum.k === 'CNi'"}], "mark": {"type": "rect", "color": {"gradient": "linear", "x1": 0, "y1": 0, "x2": 1, "y2": 0, "stops": [{"offset": 0, "color": "#2f6fd6"}, {"offset": 0.5, "color": "#a6dbf2"}, {"offset": 1, "color": "#5aa6e6"}]}}, "encoding": {"x2": {"field": "x2"}, "y2": {"field": "y2"}}},
      {"data": {"name": "dLegRect"}, "transform": [{"filter": "datum.k === 'CONi'"}], "mark": {"type": "rect", "color": {"gradient": "linear", "x1": 0, "y1": 0, "x2": 1, "y2": 0, "stops": [{"offset": 0, "color": "#f58288"}, {"offset": 0.5, "color": "#fccfd2"}, {"offset": 1, "color": "#f7a3a8"}]}}, "encoding": {"x2": {"field": "x2"}, "y2": {"field": "y2"}}},
      {"data": {"name": "dLegText"}, "mark": {"type": "text", "align": "left", "baseline": "middle", "fontWeight": "bold", "fontSize": 15}, "encoding": {"text": {"field": "t"}, "color": {"field": "k", "type": "nominal", "scale": {"domain": ["CNi", "CONi"], "range": ["#2e74d6", "#f0606a"]}, "legend": null}}},
      {"data": {"name": "dLetter"}, "mark": {"type": "text", "align": "center", "baseline": "middle", "fontWeight": "bold", "fontSize": 28, "color": "#000"}, "encoding": {"text": {"field": "t"}}}
     ]
    }
   ],
   "resolve": {"scale": {"x": "independent"}, "axis": {"x": "independent"}}
  }
]
}
